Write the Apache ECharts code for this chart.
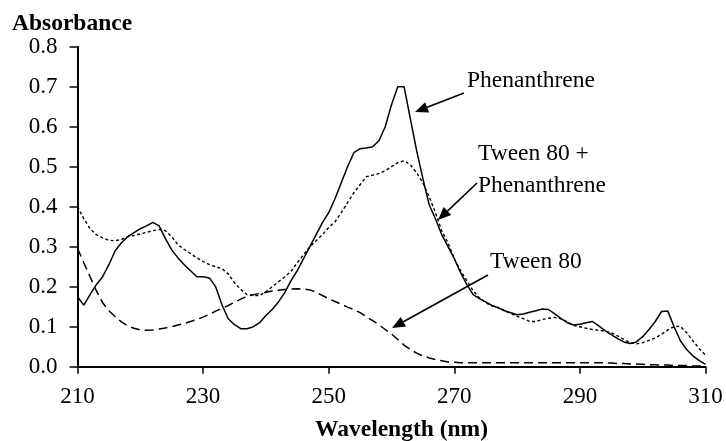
<!DOCTYPE html>
<html>
<head>
<meta charset="utf-8">
<script src="https://cdn.jsdelivr.net/npm/echarts@6/dist/echarts.min.js"></script>
<style>html,body{margin:0;padding:0;background:#fff;}#c{width:726px;height:441px;}</style>
</head>
<body>
<div id="c"></div>
<script>
// Wavelength grid (nm), 1 nm steps from 210 to 310
const wavelengths = [];
for (let w = 210; w <= 310; w++) wavelengths.push(w);

// Phenanthrene (solid)
const phenanthrene = [
0.175,0.154,0.18,0.205,0.225,0.255,0.29,0.31,0.325,0.335,
0.345,0.352,0.361,0.352,0.32,0.292,0.272,0.255,0.24,0.225,
0.225,0.222,0.2,0.155,0.12,0.105,0.095,0.095,0.1,0.11,
0.128,0.143,0.162,0.185,0.215,0.24,0.27,0.3,0.33,0.36,
0.385,0.42,0.46,0.5,0.535,0.545,0.547,0.55,0.565,0.6,
0.655,0.7,0.7,0.62,0.54,0.47,0.405,0.37,0.33,0.3,
0.27,0.235,0.205,0.18,0.17,0.162,0.153,0.147,0.14,0.135,
0.13,0.132,0.136,0.14,0.144,0.143,0.132,0.12,0.11,0.104,
0.106,0.11,0.113,0.102,0.09,0.08,0.07,0.062,0.058,0.062,
0.075,0.093,0.113,0.138,0.139,0.1,0.065,0.043,0.027,0.015,
0.006];

// Tween 80 + Phenanthrene (dotted)
const tweenPhen = [
0.40,0.37,0.345,0.33,0.322,0.316,0.315,0.318,0.325,0.328,
0.332,0.336,0.34,0.343,0.34,0.325,0.305,0.293,0.283,0.272,
0.263,0.255,0.25,0.245,0.232,0.21,0.193,0.18,0.178,0.178,
0.187,0.2,0.212,0.225,0.238,0.26,0.28,0.3,0.315,0.33,
0.348,0.362,0.385,0.41,0.435,0.455,0.475,0.479,0.483,0.49,
0.5,0.51,0.515,0.505,0.485,0.46,0.425,0.385,0.34,0.31,
0.27,0.24,0.215,0.19,0.172,0.16,0.152,0.148,0.14,0.133,
0.126,0.12,0.113,0.113,0.118,0.121,0.123,0.12,0.112,0.103,
0.1,0.096,0.093,0.091,0.089,0.085,0.077,0.068,0.06,0.057,
0.06,0.066,0.072,0.081,0.092,0.1,0.101,0.085,0.065,0.045,
0.029];

// Tween 80 (dashed)
const tween80 = [
0.296,0.26,0.225,0.19,0.16,0.14,0.125,0.112,0.102,0.096,
0.092,0.091,0.092,0.094,0.097,0.1,0.104,0.108,0.113,0.118,
0.124,0.131,0.139,0.146,0.153,0.161,0.169,0.176,0.18,0.183,
0.186,0.189,0.191,0.193,0.194,0.195,0.194,0.192,0.186,0.178,
0.17,0.163,0.156,0.149,0.143,0.135,0.125,0.115,0.105,0.093,
0.082,0.068,0.054,0.043,0.034,0.027,0.022,0.018,0.015,0.012,
0.011,0.01,0.01,0.01,0.01,0.01,0.01,0.01,0.01,0.01,
0.01,0.01,0.01,0.01,0.01,0.01,0.01,0.01,0.01,0.01,
0.01,0.01,0.01,0.01,0.01,0.009,0.008,0.008,0.007,0.007,
0.006,0.005,0.005,0.004,0.004,0.003,0.003,0.003,0.002,0.002,
0.002];

const xTicks = [210, 230, 250, 270, 290, 310];
const yTicks = [0.0, 0.1, 0.2, 0.3, 0.4, 0.5, 0.6, 0.7, 0.8];

const FONT = '"Liberation Serif", "Times New Roman", serif';
const toPairs = vals => wavelengths.map((w, i) => [w, vals[i]]);

function arrow(x1, y1, x2, y2) {
  const dx = x2 - x1, dy = y2 - y1, L = Math.hypot(dx, dy);
  const ux = dx / L, uy = dy / L, hl = 13, hw = 5.5;
  const bx = x2 - ux * hl, by = y2 - uy * hl;
  return [
    { type: 'line', shape: { x1: x1, y1: y1, x2: bx, y2: by }, style: { stroke: '#000', lineWidth: 1.6 } },
    { type: 'polygon', shape: { points: [[x2, y2], [bx - uy * hw, by + ux * hw], [bx + uy * hw, by - ux * hw]] }, style: { fill: '#000' } }
  ];
}
// baseline -> top offset for 23-24px serif
function label(text, x, baseline, bold, size) {
  size = size || 23.5;
  return { type: 'text', style: { text: text, x: x, y: baseline - Math.round(size * 0.78), fill: '#000', font: (bold ? 'bold ' : '') + size + 'px ' + FONT, verticalAlign: 'top', align: 'left' } };
}

const chart = echarts.init(document.getElementById('c'), null, { renderer: 'canvas' });
const axisCommon = {
  axisLine: { show: true, lineStyle: { color: '#000', width: 2 } },
  splitLine: { show: false },
  axisLabel: { color: '#000', fontFamily: FONT, fontSize: 23 }
};
chart.setOption({
  animation: false,
  backgroundColor: '#fff',
  grid: { left: 77.5, right: 20.5, top: 46.7, bottom: 74.3, containLabel: false },
  xAxis: Object.assign({}, axisCommon, {
    type: 'value', min: 210, max: 310, interval: 20,
    axisTick: { show: true, length: 7, lineStyle: { color: '#000', width: 1.5 } },
    axisLabel: Object.assign({}, axisCommon.axisLabel, { margin: 19, customValues: xTicks, formatter: v => String(v) })
  }),
  yAxis: Object.assign({}, axisCommon, {
    type: 'value', min: 0, max: 0.8, interval: 0.1,
    axisTick: { show: true, length: 8, lineStyle: { color: '#000', width: 1.5 } },
    axisLabel: Object.assign({}, axisCommon.axisLabel, { margin: 20, formatter: v => v.toFixed(1) })
  }),
  series: [
    { name: 'Phenanthrene', type: 'line', data: toPairs(phenanthrene), showSymbol: false, lineStyle: { color: '#000', width: 1.5, type: 'solid' } },
    { name: 'Tween 80 + Phenanthrene', type: 'line', data: toPairs(tweenPhen), showSymbol: false, lineStyle: { color: '#000', width: 1.4, type: [3, 2.5] } },
    { name: 'Tween 80', type: 'line', data: toPairs(tween80), showSymbol: false, lineStyle: { color: '#000', width: 1.5, type: [9, 5] } }
  ],
  graphic: [
    label('Absorbance', 12, 30, true, 23.5),
    label('Wavelength (nm)', 315, 436, true, 23.5),
    label('Phenanthrene', 467, 87, false),
    label('Tween 80 +', 478, 160, false),
    label('Phenanthrene', 478, 192, false),
    label('Tween 80', 490, 268, false)
  ].concat(arrow(464, 93, 415, 112), arrow(477, 183, 438, 220), arrow(488, 275, 392, 328))
});
</script>
</body>
</html>
